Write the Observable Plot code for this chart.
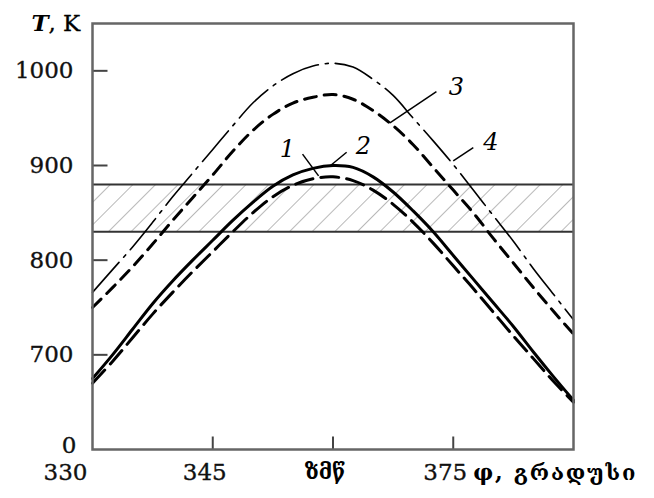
<!DOCTYPE html>
<html><head><meta charset="utf-8">
<script src="https://cdn.jsdelivr.net/npm/d3@7"></script>
<script src="https://cdn.jsdelivr.net/npm/@observablehq/plot@0.6"></script>
<style>
html,body{margin:0;padding:0;background:#fff;}
#chart{width:654px;height:498px;}
svg{font-family:"DejaVu Serif","Liberation Serif",serif;}
</style></head><body><div id="chart"></div>
<script>
// crank angle, degrees
const phi = [330, 332.5, 335, 337.5, 340, 342.5, 345, 347.5, 350, 352.5, 355, 357.5, 360,
             362.5, 365, 367.5, 370, 372.5, 375, 377.5, 380, 382.5, 385, 387.5, 390];
// temperature, K
const curve1 = [675, 700, 727, 754, 778, 800, 821, 842, 861, 878, 890, 897, 900,
                898, 888, 872, 852, 830, 805, 780, 755, 730, 703, 677, 652];
const curve2 = [670, 693, 718, 743, 766, 788, 809, 830, 850, 867, 879, 886, 888,
                884, 874, 859, 840, 818, 794, 770, 745, 720, 696, 672, 650];
const curve3 = [750, 771, 793, 817, 842, 866, 890, 915, 937, 954, 966, 972, 975,
                970, 958, 942, 922, 898, 874, 850, 823, 797, 771, 746, 722];
const curve4 = [766, 790, 814, 840, 867, 892, 917, 942, 966, 984, 997, 1005, 1008,
                1004, 991, 974, 950, 926, 901, 874, 847, 820, 791, 764, 737];

// hatched band (K)
const bandBounds = [830, 880];

// axis ticks
const yTicks = [600, 700, 800, 900, 1000];
const yTickLabels = ["0", "700", "800", "900", "1000"];
const xTicks = [330, 345, 360, 375];
const xTickLabels = ["330", "345", "ზმწ", "375"];
const xTitle = "φ, გრადუსი";

// curve annotations
const labelText = ["1", "2", "3", "4"];
const labelPhi = [354.3, 363.8, 375.4, 379.7];
const labelT = [917, 920, 983, 925];
const leaderPhi1 = [356.2, 361.7, 372.9, 377.5];
const leaderT1 = [912, 914, 978, 919];
const leaderPhi2 = [358.2, 359.7, 367.1, 375.0];
const leaderT2 = [889, 900, 945, 905];

const toRows = (ys) => phi.map((p, i) => ({phi: p, T: ys[i]}));
const labels = labelText.map((t, i) => ({t, phi: labelPhi[i], T: labelT[i]}));
const leaders = labelText.map((t, i) => ({x1: leaderPhi1[i], y1: leaderT1[i], x2: leaderPhi2[i], y2: leaderT2[i]}));
const yLab = yTicks.map((v, i) => ({v, s: yTickLabels[i]}));
const xLab = xTicks.map((v, i) => ({v, s: xTickLabels[i]}));
const font = "DejaVu Serif";
const numStyle = {fontSize: 23, fontFamily: font, fill: "#111", stroke: "#111", strokeWidth: 0.35};

const W = 654, H = 498, mL = 92, mR = 81, mT = 23, mB = 49;
const frameW = W - mL - mR, frameH = H - mT - mB;
const xDomain = [330, 390], yDomain = [600, 1050];
// inward tick lengths in pixels, converted to data units
const yTickLen = 15 * (xDomain[1] - xDomain[0]) / frameW;
const xTickLen = 13 * (yDomain[1] - yDomain[0]) / frameH;
const yTickSegs = yTicks.slice(1).map(v => ({x1: xDomain[0], x2: xDomain[0] + yTickLen, y1: v, y2: v}));
const xTickSegs = xTicks.slice(1).map(v => ({x1: v, x2: v, y1: yDomain[0], y2: yDomain[0] + xTickLen}));

const chart = Plot.plot({
  width: W,
  height: H,
  marginLeft: mL,
  marginRight: mR,
  marginTop: mT,
  marginBottom: mB,
  style: {background: "#fff", color: "#000", fontFamily: font},
  x: {domain: xDomain, axis: null},
  y: {domain: yDomain, axis: null},
  marks: [
    Plot.rect([bandBounds], {x1: xDomain[0], x2: xDomain[1], y1: d => d[0], y2: d => d[1], fill: "url(#hatch)"}),
    Plot.ruleY(bandBounds, {stroke: "#333", strokeWidth: 2}),
    Plot.link(yTickSegs, {x1: "x1", y1: "y1", x2: "x2", y2: "y2", stroke: "#444", strokeWidth: 2}),
    Plot.link(xTickSegs, {x1: "x1", y1: "y1", x2: "x2", y2: "y2", stroke: "#444", strokeWidth: 2}),
    Plot.line(toRows(curve4), {x: "phi", y: "T", stroke: "#000", strokeWidth: 1.6, strokeDasharray: "40,7,3,7", curve: "catmull-rom"}),
    Plot.line(toRows(curve3), {x: "phi", y: "T", stroke: "#000", strokeWidth: 3, strokeDasharray: "12,8", curve: "catmull-rom"}),
    Plot.line(toRows(curve2), {x: "phi", y: "T", stroke: "#000", strokeWidth: 3, strokeDasharray: "18,8", curve: "catmull-rom"}),
    Plot.line(toRows(curve1), {x: "phi", y: "T", stroke: "#000", strokeWidth: 3, curve: "catmull-rom"}),
    Plot.link(leaders, {x1: "x1", y1: "y1", x2: "x2", y2: "y2", stroke: "#000", strokeWidth: 1.5}),
    Plot.text(labels, {x: "phi", y: "T", text: "t", fontSize: 24, fontStyle: "italic", fontFamily: font}),
    Plot.frame({stroke: "#666", strokeWidth: 2.5}),
    Plot.text(yLab.filter((d, i) => i > 0), {y: "v", text: "s", frameAnchor: "left", textAnchor: "end", dx: -19, ...numStyle}),
    Plot.text(yLab.filter((d, i) => i === 0), {y: "v", text: "s", frameAnchor: "left", textAnchor: "end", dx: -16, dy: -4, ...numStyle}),
    Plot.text(xLab.filter((d, i) => i === 0), {x: "v", text: "s", frameAnchor: "bottom", textAnchor: "end", dx: -5, dy: 30, ...numStyle}),
    Plot.text(xLab.filter((d, i) => i === 1 || i === 3), {x: "v", text: "s", frameAnchor: "bottom", textAnchor: "middle", dx: -8, dy: 30, ...numStyle}),
    Plot.text(xLab.filter((d, i) => i === 2), {x: "v", text: "s", frameAnchor: "bottom", textAnchor: "middle", dx: -8, dy: 29, fontSize: 21, fontWeight: "bold", fontFamily: font}),
    Plot.text([xTitle], {x: 375, text: d => d, frameAnchor: "bottom", textAnchor: "start", dx: 20, dy: 30, fontSize: 22, fontWeight: "bold", fontFamily: font}),
    Plot.text(["T"], {frameAnchor: "top-left", text: d => d, textAnchor: "end", dx: -44, dy: -9, fontSize: 23, fontStyle: "italic", fontWeight: "bold", fontFamily: font}),
    Plot.text([", K"], {frameAnchor: "top-left", text: d => d, textAnchor: "start", dx: -44, dy: -9, fontSize: 23, fontFamily: font, fill: "#000", stroke: "#000", strokeWidth: 0.35})
  ]
});

const svg = d3.select(chart);
const defs = svg.insert("defs", ":first-child");
const pat = defs.append("pattern")
  .attr("id", "hatch")
  .attr("patternUnits", "userSpaceOnUse")
  .attr("width", 16).attr("height", 16)
  .attr("patternTransform", "rotate(45)");
pat.append("line").attr("x1", 0).attr("y1", 0).attr("x2", 0).attr("y2", 16)
  .attr("stroke", "#8a8a8a").attr("stroke-width", 1.2);
svg.selectAll("text").filter(function() { return this.textContent === xTitle; })
  .style("letter-spacing", "1.8px");

document.getElementById("chart").appendChild(chart);
</script>
</body></html>
